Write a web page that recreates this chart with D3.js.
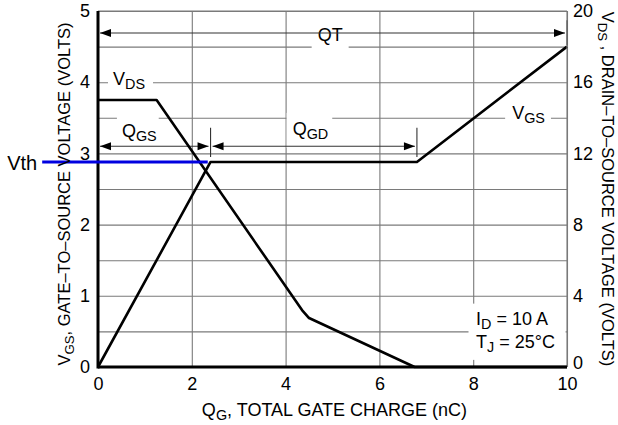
<!DOCTYPE html>
<html lang="en">
<head>
    <meta charset="UTF-8">
    <title>Gate charge</title>
    <script src="https://d3js.org/d3.v7.min.js"></script>
    <style>
        body { margin: 0; background: #fff; }
        text { font-family: "Liberation Sans", Arial, sans-serif; fill: #000; }
    </style>
</head>
<body>
<div id="chart"></div>
<script>
    // values
    let qTicks = [0, 2, 4, 6, 8, 10];
    let vgsTicks = [0, 1, 2, 3, 4, 5];
    let vdsTicks = [0, 4, 8, 12, 16, 20];
    let gridQ = [2, 4, 6, 8, 10];
    let gridV = [0.5, 1, 1.5, 2, 2.5, 3, 3.5, 4, 4.5, 5];

    // VGS curve (left axis, volts)
    let vgsQ = [0, 2.4, 6.8, 10];
    let vgsV = [0, 2.88, 2.88, 4.5];
    // VDS curve (right axis, volts)
    let vdsQ = [0, 1.25, 4.35, 4.5, 6.75, 10];
    let vdsV = [15, 15, 3.2, 2.75, 0, 0];

    let vth = 2.88;
    let vthQ = [-1.19, 2.34];
    let qgsEnd = 2.4, qgdEnd = 6.8, qt = 10;

    let margin = {top: 11, right: 51, bottom: 58, left: 98};
    let W = 618, H = 425;
    let width = W - margin.left - margin.right;
    let height = H - margin.top - margin.bottom;

    let svg = d3.select('#chart').append('svg')
        .attr('width', W).attr('height', H)
        .append('g')
        .attr('transform', 'translate(' + margin.left + ',' + margin.top + ')');

    let x = d3.scaleLinear().domain([0, 10]).range([0, width]);
    let yL = d3.scaleLinear().domain([0, 5]).range([height, 0]);
    let yR = d3.scaleLinear().domain([0, 20]).range([height, 0]);

    // grid
    svg.append('g').attr('class', 'grid')
        .call(d3.axisLeft(yL).tickValues(gridV).tickSize(-width).tickFormat(''))
        .call(g => g.select('.domain').remove());
    svg.append('g').attr('class', 'grid')
        .attr('transform', 'translate(0,' + height + ')')
        .call(d3.axisBottom(x).tickValues(gridQ).tickSize(-height).tickFormat(''))
        .call(g => g.select('.domain').remove());
    svg.selectAll('.grid line').attr('stroke', '#7a7a7a').attr('stroke-width', 1.1);

    // tick labels
    let fs = 18;
    let fmt = d3.format('d');
    svg.append('g').call(d3.axisLeft(yL).tickValues(vgsTicks).tickFormat(fmt).tickSize(0).tickPadding(8))
        .call(g => g.select('.domain').remove());
    svg.append('g').attr('transform', 'translate(' + width + ',0)')
        .call(d3.axisRight(yR).tickValues(vdsTicks).tickFormat(fmt).tickSize(0).tickPadding(6))
        .call(g => g.select('.domain').remove())
        .call(g => g.selectAll('.tick text').filter(d => d === 0).attr('y', -4));
    svg.append('g').attr('transform', 'translate(0,' + height + ')')
        .call(d3.axisBottom(x).tickValues(qTicks).tickFormat(fmt).tickSize(0).tickPadding(10))
        .call(g => g.select('.domain').remove());
    svg.selectAll('.tick text').attr('font-size', fs).attr('font-family', '"Liberation Sans", Arial, sans-serif');

    let labels = svg.append('g');
    let boxes = labels.append('g');

    function subLabel(parent, px, py, main, sub, rest, size) {
        let t = parent.append('text').attr('x', px).attr('y', py).attr('font-size', size || fs);
        t.append('tspan').text(main);
        t.append('tspan').attr('font-size', '0.8em').attr('dy', 4).text(sub);
        if (rest) t.append('tspan').attr('dy', -4).text(rest);
        return t;
    }

    function whiteBox(t, pad, padR) {
        let b = t.node().getBBox();
        boxes.append('rect')
            .attr('x', b.x - pad).attr('y', b.y - pad)
            .attr('width', b.width + pad + (padR || pad)).attr('height', b.height + 2 * pad)
            .attr('fill', '#fff');
    }

    // annotations
    let tVds = subLabel(labels, x(0.32), yL(3.96), 'V', 'DS');
    whiteBox(tVds, 5, 8);
    let tQgs = subLabel(labels, x(0.51), yL(3.23), 'Q', 'GS');
    whiteBox(tQgs, 5, 2);
    let tQgd = subLabel(labels, x(4.15), yL(3.26), 'Q', 'GD');
    whiteBox(tQgd, 6, 4);
    let tVgs = subLabel(labels, x(8.83), yL(3.48), 'V', 'GS');
    whiteBox(tVgs, 7, 6);
    let tQt = labels.append('text').attr('x', x(4.95)).attr('y', yL(4.58))
        .attr('text-anchor', 'middle').attr('font-size', fs).text('QT');
    whiteBox(tQt, 6);
    subLabel(labels, x(8.06), yL(0.59), 'I', 'D', ' = 10 A');
    subLabel(labels, x(8.06), yL(0.27), 'T', 'J', ' = 25°C');
    boxes.append('rect')
        .attr('x', x(7.9)).attr('y', yL(0.89))
        .attr('width', x(10) - x(7.93)).attr('height', yL(0.1) - yL(0.89))
        .attr('fill', '#fff');

    // dimension arrows
    let arrows = svg.append('g');
    function arrowLine(q0, q1, v) {
        arrows.append('line')
            .attr('x1', x(q0) + 2).attr('x2', x(q1) - 2)
            .attr('y1', yL(v)).attr('y2', yL(v))
            .attr('stroke', '#333').attr('stroke-width', 1.1);
        head(x(q0) + 2, yL(v), 1);
        head(x(q1) - 2, yL(v), -1);
    }
    function head(px, py, dir) {
        arrows.append('path')
            .attr('d', 'M' + px + ',' + py + 'l' + (11 * dir) + ',-4l0,8z')
            .attr('fill', '#000');
    }
    function endTick(q, v0, v1) {
        arrows.append('line')
            .attr('x1', x(q)).attr('x2', x(q))
            .attr('y1', yL(v0)).attr('y2', yL(v1))
            .attr('stroke', '#333').attr('stroke-width', 1.1);
    }
    arrowLine(0, qt, 4.69);
    endTick(qt, 4.52, 4.87);
    arrowLine(0, qgsEnd, 3.1);
    arrowLine(qgsEnd, qgdEnd, 3.1);
    endTick(qgsEnd, 2.95, 3.36);
    endTick(qgdEnd, 2.95, 3.36);

    // curves
    let lineL = d3.line().x(d => x(d[0])).y(d => yL(d[1]));
    let lineR = d3.line().x(d => x(d[0])).y(d => yR(d[1]));
    svg.append('path').datum(d3.zip(vgsQ, vgsV))
        .attr('d', lineL).attr('fill', 'none')
        .attr('stroke', '#000').attr('stroke-width', 2.6).attr('stroke-linejoin', 'round');
    svg.append('path').datum(d3.zip(vdsQ, vdsV))
        .attr('d', lineR).attr('fill', 'none')
        .attr('stroke', '#000').attr('stroke-width', 2.6).attr('stroke-linejoin', 'round');

    // frame: heavy left/bottom, light top/right
    svg.append('line').attr('x1', 0).attr('x2', width).attr('y1', 0).attr('y2', 0)
        .attr('stroke', '#7a7a7a').attr('stroke-width', 1.1);
    svg.append('line').attr('x1', width).attr('x2', width).attr('y1', 0).attr('y2', height)
        .attr('stroke', '#7a7a7a').attr('stroke-width', 1.1);
    svg.append('line').attr('x1', 0).attr('x2', 0).attr('y1', 0).attr('y2', height + 1.5)
        .attr('stroke', '#000').attr('stroke-width', 3);
    svg.append('line').attr('x1', 0).attr('x2', width).attr('y1', height).attr('y2', height)
        .attr('stroke', '#000').attr('stroke-width', 3);

    // Vth marker
    svg.append('line')
        .attr('x1', x(vthQ[0])).attr('x2', x(vthQ[1]))
        .attr('y1', yL(vth)).attr('y2', yL(vth))
        .attr('stroke', '#0000e0').attr('stroke-width', 3);
    svg.append('text').attr('x', x(vthQ[0]) - 35).attr('y', yL(vth) + 8)
        .attr('font-size', 20).text('Vth');

    // axis titles
    subLabel(svg, width / 2 + 2, height + 49, 'Q', 'G', ', TOTAL GATE CHARGE (nC)')
        .attr('text-anchor', 'middle');
    subLabel(svg.append('g').attr('transform', 'translate(-28,' + (height / 2 + 5) + ') rotate(-90)'),
        0, 0, 'V', 'GS', ', GATE–TO–SOURCE VOLTAGE (VOLTS)', 16.5)
        .attr('text-anchor', 'middle');
    subLabel(svg.append('g').attr('transform', 'translate(' + (width + 35) + ',' + (height / 2) + ') rotate(90)'),
        0, 0, 'V', 'DS', ' , DRAIN–TO–SOURCE VOLTAGE (VOLTS)', 16.5)
        .attr('text-anchor', 'middle');
</script>
</body>
</html>
